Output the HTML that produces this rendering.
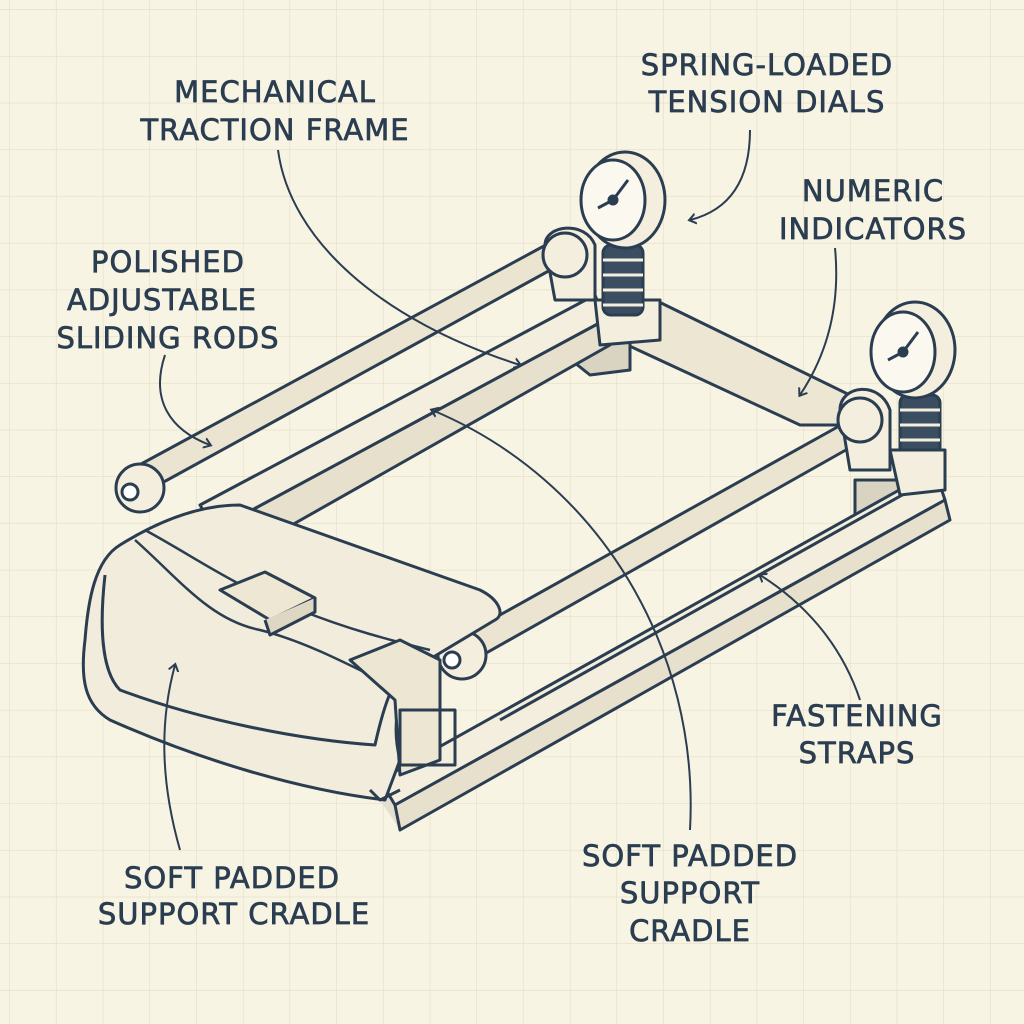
<!DOCTYPE html>
<html><head><meta charset="utf-8"><style>
html,body{margin:0;padding:0;background:#f8f4e4;}
svg{display:block}
text{font-family:"DejaVu Sans","Liberation Sans",sans-serif;font-size:29px;fill:#2b3d50;stroke:#2b3d50;stroke-width:0.7px;text-anchor:middle;letter-spacing:1px}
</style></head><body>
<svg width="1024" height="1024" viewBox="0 0 1024 1024" xmlns="http://www.w3.org/2000/svg">
<defs>
<pattern id="g" width="46.7" height="46.7" patternUnits="userSpaceOnUse" x="10" y="10">
<path d="M46.7 0V46.7M0 46.7H46.7" stroke="#e3dcc6" stroke-width="1.2" fill="none"/>
</pattern>
<marker id="a" markerWidth="12" markerHeight="12" refX="6" refY="6" orient="auto" markerUnits="userSpaceOnUse">
<path d="M0 1L7 6L0 11" stroke="#2b3d50" stroke-width="2" fill="none"/>
</marker>
</defs>
<rect width="1024" height="1024" fill="#f8f4e4"/>
<rect width="1024" height="1024" fill="url(#g)"/>

<g stroke="#2b3d50" stroke-width="3" fill="#f3eedd" stroke-linejoin="round">
<path d="M380 800 L945 495 L950 520 L400 830Z" fill="#e4dfd0" stroke="none"/>
<path d="M595 300 L655 300 L860 400 L860 425 L800 425 L595 330Z" fill="#ece6d3"/>
<path d="M565 320 L630 320 L630 370 L590 375 L565 355Z" fill="#d9d3c2"/>
<path d="M855 480 L935 480 L935 520 L885 540 L855 520Z" fill="#d9d3c2"/>
<path d="M200 505 L595 295 L605 320 L215 530Z"/>
<path d="M215 530 L605 320 L610 345 L230 560Z" fill="#e6e0cd"/>
<path d="M130 470 L555 240 L565 262 L140 495Z" fill="#eae4d0"/>
<circle cx="140" cy="488" r="24"/>
<circle cx="130" cy="492" r="8" fill="#fff"/>
<path d="M380 780 L935 470 L945 500 L395 805Z"/>
<path d="M395 805 L945 500 L950 520 L400 830Z" fill="#e6e0cd"/>
<path d="M500 720 L920 485" fill="none"/>
<path d="M455 640 L850 420 L860 442 L465 665Z" fill="#eae4d0"/>
<circle cx="462" cy="655" r="24"/>
<circle cx="452" cy="660" r="8" fill="#fff"/>
<path d="M545 245 C545 225 585 220 595 245 L595 300 L555 300Z"/>
<circle cx="565" cy="255" r="22"/>
<path d="M595 300 L660 300 L660 340 L600 345Z"/>
<rect x="603" y="245" width="40" height="70" rx="8" fill="#3b4d60"/>
<g stroke="#f3eedd" stroke-width="3"><path d="M603 260H643M603 275H643M603 290H643M603 305H643"/></g>
<ellipse cx="625" cy="200" rx="40" ry="48"/>
<ellipse cx="613" cy="200" rx="32" ry="40" fill="#faf8ef"/>
<path d="M613 200 L628 180 M613 200 L598 208" stroke-width="3"/>
<circle cx="613" cy="200" r="4" fill="#2b3d50"/>
<path d="M840 410 C840 385 880 380 890 410 L890 470 L850 470Z"/>
<circle cx="860" cy="420" r="22"/>
<rect x="900" y="395" width="40" height="70" rx="8" fill="#3b4d60"/>
<g stroke="#f3eedd" stroke-width="3"><path d="M900 410H940M900 425H940M900 440H940M900 455H940"/></g>
<path d="M890 450 L945 450 L945 490 L900 495Z"/>
<ellipse cx="915" cy="350" rx="40" ry="48"/>
<ellipse cx="903" cy="352" rx="32" ry="40" fill="#faf8ef"/>
<path d="M903 352 L918 332 M903 352 L888 360"/>
<circle cx="903" cy="352" r="4" fill="#2b3d50"/>
<path d="M120 545 C160 520 200 505 240 505 L480 590 C500 600 505 615 495 620 L420 665 C400 690 390 720 400 760 L385 800 C300 790 200 760 110 720 C85 705 80 680 85 640 C88 600 95 560 120 545Z" fill="#f1ecdb"/>
<path d="M105 575 C100 620 100 670 120 690 C200 720 300 740 375 745 C385 700 395 670 420 660" fill="none"/>
<path d="M145 530 C200 560 240 590 300 610 C350 630 390 640 430 650" fill="none" stroke-width="2.5"/>
<path d="M135 540 C180 580 210 620 260 630 C300 640 340 660 380 680" fill="none" stroke-width="2.5"/>
<path d="M220 590 L265 572 L315 598 L270 620Z" fill="#ede7d4"/>
<path d="M265 620 L270 635 L315 612 L315 598" fill="#ddd7c4"/>
<path d="M350 660 L400 640 L440 660 L440 760 L400 775 L395 700Z" fill="#ece6d3"/>
<rect x="400" y="710" width="55" height="55" fill="none"/>
<path d="M370 790 L380 800 L400 790" fill="none"/>
</g>

<g stroke="#2b3d50" stroke-width="2" fill="none">
<path d="M278 150 C290 240 380 320 520 365" marker-end="url(#a)"/>
<path d="M750 130 C750 180 730 210 690 220" marker-end="url(#a)"/>
<path d="M835 248 C840 300 830 350 800 395" marker-end="url(#a)"/>
<path d="M165 355 C150 400 170 430 210 445" marker-end="url(#a)"/>
<path d="M860 700 C840 640 800 600 760 575" marker-end="url(#a)"/>
<path d="M180 850 C160 780 160 720 175 665" marker-end="url(#a)"/>
<path d="M690 830 C700 650 600 480 432 410" marker-end="url(#a)"/>
</g>

<text x="275" y="102">MECHANICAL</text>
<text x="275" y="140">TRACTION FRAME</text>
<text x="767" y="75">SPRING-LOADED</text>
<text x="767" y="112">TENSION DIALS</text>
<text x="873" y="201">NUMERIC</text>
<text x="873" y="239">INDICATORS</text>
<text x="168" y="272">POLISHED</text>
<text x="162" y="310">ADJUSTABLE</text>
<text x="168" y="348">SLIDING RODS</text>
<text x="857" y="726">FASTENING</text>
<text x="857" y="763">STRAPS</text>
<text x="232" y="888">SOFT PADDED</text>
<text x="234" y="924">SUPPORT CRADLE</text>
<text x="690" y="866">SOFT PADDED</text>
<text x="690" y="903">SUPPORT</text>
<text x="690" y="941">CRADLE</text>
</svg>
</body></html>
